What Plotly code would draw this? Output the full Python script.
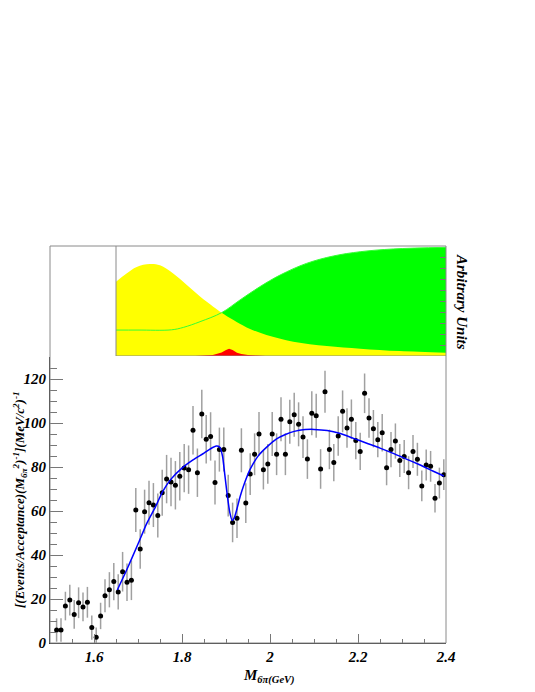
import plotly.graph_objects as go

# 6-pion invariant mass, bin centres (GeV)
mass = [
    1.515, 1.525, 1.535, 1.545, 1.555, 1.565, 1.575, 1.585, 1.595, 1.605,
    1.615, 1.625, 1.635, 1.645, 1.655, 1.665, 1.675, 1.685, 1.695, 1.705,
    1.715, 1.725, 1.735, 1.745, 1.755, 1.765, 1.775, 1.785, 1.795, 1.805,
    1.815, 1.825, 1.835, 1.845, 1.855, 1.865, 1.875, 1.885, 1.895, 1.905,
    1.915, 1.925, 1.935, 1.945, 1.955, 1.965, 1.975, 1.985, 1.995, 2.005,
    2.015, 2.025, 2.035, 2.045, 2.055, 2.065, 2.075, 2.085, 2.095, 2.105,
    2.115, 2.125, 2.135, 2.145, 2.155, 2.165, 2.175, 2.185, 2.195, 2.205,
    2.215, 2.225, 2.235, 2.245, 2.255, 2.265, 2.275, 2.285, 2.295, 2.305,
    2.315, 2.325, 2.335, 2.345, 2.355, 2.365, 2.375, 2.385, 2.395,
]
events = [
    5.9, 5.9, 16.8, 19.5, 13.0, 18.3, 16.4, 18.5, 7.0, 2.6,
    12.3, 21.5, 24.2, 27.9, 23.2, 32.4, 27.6, 28.5, 60.5, 42.7,
    59.7, 63.8, 62.7, 57.9, 68.3, 74.5, 73.2, 71.7, 75.8, 79.5,
    78.8, 96.7, 77.4, 104.1, 92.6, 93.9, 72.9, 87.9, 87.9, 67.0,
    54.8, 56.7, 87.6, 63.6, 76.8, 85.8, 95.0, 78.8, 81.4, 95.0,
    85.8, 101.7, 85.8, 100.6, 103.8, 99.4, 93.6, 83.6, 104.4, 103.3,
    79.1, 114.2, 88.0, 82.0, 94.1, 105.3, 97.7, 101.7, 92.0, 87.1,
    113.5, 102.3, 97.4, 92.4, 95.6, 79.7, 87.9, 91.8, 83.0, 84.8,
    77.4, 87.1, 83.5, 71.4, 80.9, 80.3, 65.8, 72.7, 76.5,
]
errors = [
    5.3, 5.3, 6.5, 7.0, 6.5, 7.0, 6.5, 7.0, 5.5, 4.5,
    6.0, 7.5, 8.0, 8.5, 8.0, 9.0, 8.5, 9.0, 10.0, 9.0,
    10.0, 10.0, 10.0, 10.0, 10.5, 11.0, 11.0, 11.0, 11.0, 11.0,
    11.0, 11.0, 11.0, 11.0, 11.0, 11.0, 10.0, 10.0, 10.0, 9.5,
    9.0, 9.0, 10.0, 9.0, 9.5, 9.5, 10.0, 9.0, 9.0, 10.0,
    9.5, 10.0, 9.5, 10.0, 10.0, 10.0, 9.5, 9.0, 10.0, 10.0,
    9.0, 9.5, 9.0, 8.5, 9.0, 9.5, 9.0, 9.0, 8.5, 8.5,
    9.0, 9.0, 8.5, 8.0, 8.5, 8.0, 8.0, 8.0, 7.5, 7.5,
    7.5, 7.5, 7.5, 7.0, 7.0, 7.0, 6.5, 7.0, 7.0,
]

# fit curve
fit_x = [
    1.653, 1.675, 1.700, 1.720, 1.740, 1.755, 1.775, 1.800, 1.825, 1.850,
    1.865, 1.878, 1.886, 1.892, 1.897, 1.903, 1.909, 1.914, 1.919, 1.925,
    1.932, 1.940, 1.955, 1.975, 1.995, 2.015, 2.035, 2.055, 2.080, 2.100,
    2.130, 2.160, 2.190, 2.220, 2.250, 2.280, 2.310, 2.340, 2.370, 2.395,
]
fit_y = [
    24.1, 33.5, 45.0, 54.4, 62.0, 68.5, 74.5, 79.5, 83.2, 86.3,
    88.3, 89.5, 89.0, 85.0, 77.0, 67.0, 59.0, 55.7, 57.0, 61.0,
    66.5, 71.5, 79.0, 85.5, 89.5, 92.8, 94.8, 96.2, 97.0, 97.1,
    96.6, 95.2, 93.0, 90.8, 88.6, 86.2, 83.6, 81.0, 78.2, 75.9,
]

# components (arbitrary units)
yellow_x = [1.650, 1.674, 1.697, 1.727, 1.750, 1.780, 1.811, 1.841, 1.871, 1.890,
            1.917, 1.947, 1.992, 2.053, 2.129, 2.205, 2.295, 2.400]
yellow_y = [0.675, 0.75, 0.81, 0.836, 0.824, 0.75, 0.645, 0.54, 0.448, 0.394,
            0.327, 0.26, 0.19, 0.13, 0.091, 0.067, 0.045, 0.03]
green_x = [1.650, 1.700, 1.776, 1.803, 1.841, 1.890, 1.932, 1.977, 2.023, 2.083,
           2.144, 2.205, 2.280, 2.400]
green_y = [0.236, 0.236, 0.238, 0.26, 0.312, 0.394, 0.51, 0.63, 0.736, 0.842,
           0.909, 0.948, 0.973, 0.988]
red_x = [1.830, 1.850, 1.870, 1.880, 1.890, 1.900, 1.907, 1.915, 1.925, 1.935,
         1.950, 1.970, 1.990]
red_y = [0.0, 0.004, 0.01, 0.02, 0.032, 0.055, 0.067, 0.055, 0.03, 0.018,
         0.009, 0.004, 0.0]

serif = "Liberation Serif"
frame = "#8a8a8a"
tickc = "#777777"

fig = go.Figure()

fig.add_trace(go.Scatter(
    x=green_x, y=green_y, xaxis="x2", yaxis="y2", mode="lines",
    line=dict(color="#00ff00", width=0, shape="spline"), fill="tozeroy",
    fillcolor="#00ff00",
))
fig.add_trace(go.Scatter(
    x=yellow_x, y=yellow_y, xaxis="x2", yaxis="y2", mode="lines",
    line=dict(color="#ffff00", width=0, shape="spline"), fill="tozeroy",
    fillcolor="#ffff00",
))
fig.add_trace(go.Scatter(
    x=red_x, y=red_y, xaxis="x2", yaxis="y2", mode="lines",
    line=dict(color="#ff0000", width=0), fill="tozeroy", fillcolor="#ff0000",
))
fig.add_trace(go.Scatter(
    x=green_x, y=green_y, xaxis="x2", yaxis="y2", mode="lines",
    line=dict(color="#33ff33", width=1, shape="spline"),
))

fig.add_trace(go.Scatter(
    x=mass, y=events, mode="markers",
    marker=dict(color="black", size=5),
    error_y=dict(type="data", array=errors, color="#a0a0a0", thickness=1.5, width=0),
))
fig.add_trace(go.Scatter(
    x=fit_x, y=fit_y, mode="lines",
    line=dict(color="#0000ff", width=1.5, shape="spline", smoothing=0.6),
))

tick_font = dict(family=serif, size=15, color="black", weight="bold", style="italic")

# the page adds an 8px body margin, so the margins are shifted by that amount
fig.update_layout(
    width=535, height=692,
    margin=dict(l=42, r=97, t=238, b=57),
    paper_bgcolor="white", plot_bgcolor="white",
    showlegend=False,
    font=dict(family=serif, color="black"),
    xaxis=dict(
        domain=[0, 1], range=[1.5, 2.4], anchor="y",
        tickvals=[1.6, 1.8, 2.0, 2.2, 2.4], ticktext=["1.6", "1.8", "2", "2.2", "2.4"],
        ticks="inside", ticklen=9, tickcolor=tickc, tickwidth=1,
        minor=dict(dtick=0.05, ticks="inside", ticklen=4, tickcolor=tickc),
        showgrid=False, zeroline=False, showline=True, linecolor="#333", linewidth=1,
        tickfont=tick_font,
    ),
    yaxis=dict(
        domain=[0, 0.7204], range=[0, 130], anchor="x",
        dtick=20, ticks="inside", ticklen=13, tickcolor=tickc, tickwidth=1,
        minor=dict(dtick=5, ticks="inside", ticklen=7, tickcolor=tickc),
        showgrid=False, zeroline=False, showline=True, linecolor="#333", linewidth=1,
        tickfont=tick_font,
    ),
    xaxis2=dict(
        domain=[0, 1], range=[1.5, 2.4], anchor="y2",
        showticklabels=False, ticks="", showgrid=False, zeroline=False, showline=False,
    ),
    yaxis2=dict(
        domain=[0.7229, 1], range=[0, 1], anchor="x2", side="right",
        showticklabels=False, ticks="inside", ticklen=6, dtick=0.1, tickcolor=tickc,
        showgrid=False, zeroline=False, showline=False,
    ),
)

# frame of the whole pad and of the upper panel
fig.add_shape(type="rect", xref="paper", yref="paper", x0=0, x1=1, y0=0, y1=1,
              line=dict(color=frame, width=1))
fig.add_shape(type="line", xref="x2", yref="y2", x0=1.65, x1=1.65, y0=0, y1=1,
              line=dict(color=frame, width=1))
fig.add_shape(type="line", xref="x2", yref="y2", x0=1.65, x1=2.4, y0=0, y1=0,
              line=dict(color=frame, width=1))

fig.add_annotation(
    xref="paper", yref="paper", x=-0.076, y=0.36, xanchor="center", yanchor="middle",
    textangle=-90, showarrow=False,
    text="[(Events/Acceptance)(M<sub>6π</sub><sup>2</sup>)<sup>-1</sup>](MeV/c<sup>2</sup>)<sup>-1</sup>",
    font=dict(family=serif, size=13, color="black", weight="bold", style="italic"),
)
fig.add_annotation(
    xref="paper", yref="paper", x=0.553, y=-0.085, xanchor="center", yanchor="middle",
    showarrow=False, text="M<sub>6π(GeV)</sub>",
    font=dict(family=serif, size=15, color="black", weight="bold", style="italic"),
)
fig.add_annotation(
    xref="paper", yref="paper", x=1.042, y=0.86, xanchor="center", yanchor="middle",
    textangle=90, showarrow=False, text="Arbitrary Units",
    font=dict(family=serif, size=15, color="black", weight="bold", style="italic"),
)

fig.write_html("out.html")
